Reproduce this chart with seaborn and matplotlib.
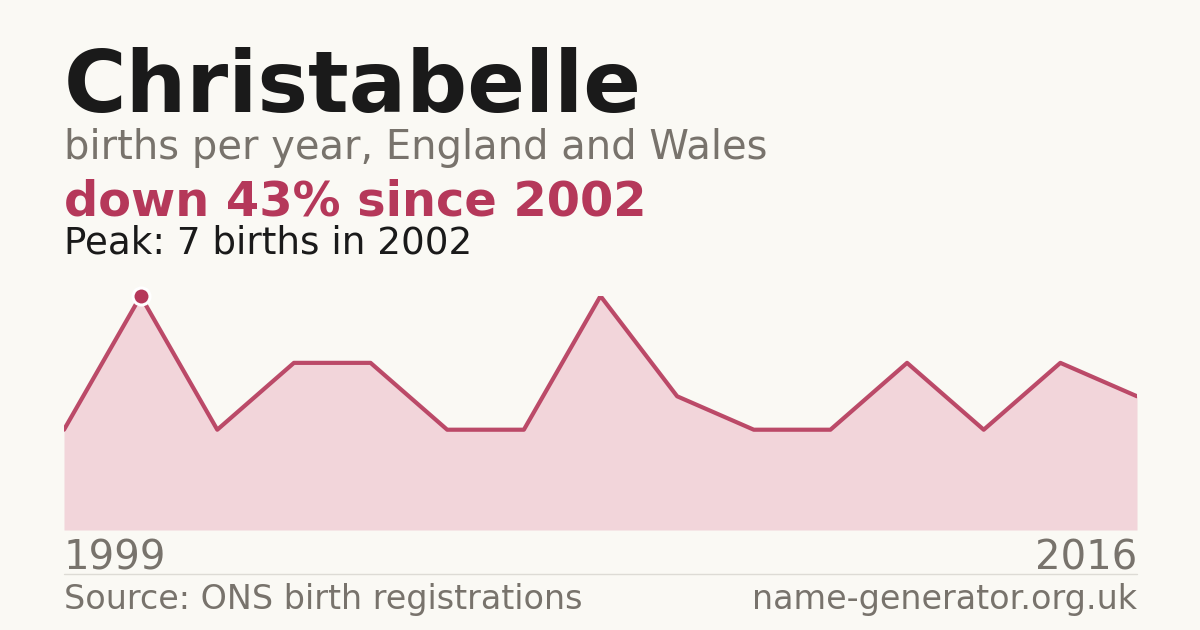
import matplotlib
matplotlib.use("Agg")
import matplotlib.pyplot as plt
import pandas as pd
import seaborn as sns

YEARS = [1999, 2002, 2003, 2004, 2005, 2006, 2007, 2008, 2009, 2010,
         2011, 2012, 2014, 2015, 2016]
BIRTHS = [3, 7, 3, 5, 5, 3, 3, 7, 4, 3, 3, 5, 3, 5, 4]
PEAK_YEAR = 2002

BG = "#faf9f4"
CRIMSON = "#b5385a"
FILL = "#f2d5da"
GREY = "#78736c"
INK = "#1a1a1a"

sns.set_theme(style="white")
plt.rcParams["font.family"] = ["DejaVu Sans"]

df = pd.DataFrame({"year": YEARS, "births": BIRTHS})
df["idx"] = range(len(df))

fig = plt.figure(figsize=(12, 6.3), dpi=100, facecolor=BG)
W, H = 1200, 630
# axes: x 64..1137 px, y 296..530 px (value 7 at top, 0 at bottom)
ax = fig.add_axes([64 / W, 1 - 530 / H, (1137 - 64) / W, (530 - 296) / H])
ax.set_facecolor(BG)

ax.fill_between(df["idx"], df["births"], 0, color=FILL, linewidth=0)
sns.lineplot(data=df, x="idx", y="births", ax=ax, color=CRIMSON,
             linewidth=3, alpha=0.9)
peak = df[df["year"] == PEAK_YEAR]
ax.scatter(peak["idx"], peak["births"], s=150, color=CRIMSON,
           edgecolor="white", linewidth=2.2, zorder=5, clip_on=False)

ax.set_xlim(0, len(df) - 1)
ax.set_ylim(0, max(BIRTHS))
ax.axis("off")

fig.text(64 / W, 1 - 112 / H, "Christabelle", fontsize=61.4,
         fontweight="bold", color=INK, va="baseline")
fig.text(64 / W, 1 - 159 / H, "births per year, England and Wales",
         fontsize=28.8, color=GREY, va="baseline")
fig.text(64 / W, 1 - 215 / H, "down 43% since 2002", fontsize=34.5,
         fontweight="bold", color=CRIMSON, va="baseline")
fig.text(64 / W, 1 - 253 / H, "Peak: 7 births in 2002", fontsize=26.8,
         color=INK, va="baseline")

fig.text(64 / W, 1 - 569 / H, str(YEARS[0]), fontsize=28.9, color=GREY,
         va="baseline")
fig.text(1137 / W, 1 - 569 / H, str(YEARS[-1]), fontsize=28.9, color=GREY,
         va="baseline", ha="right")
fig.add_artist(plt.Line2D([64 / W, 1137 / W], [1 - 574 / H, 1 - 574 / H],
                          color="#dddbd5", linewidth=1))
fig.text(64 / W, 1 - 609 / H, "Source: ONS birth registrations",
         fontsize=24, color=GREY, va="baseline")
fig.text(1137 / W, 1 - 609 / H, "name-generator.org.uk", fontsize=24,
         color=GREY, va="baseline", ha="right")

fig.savefig("out.png", dpi=100, facecolor=BG)
